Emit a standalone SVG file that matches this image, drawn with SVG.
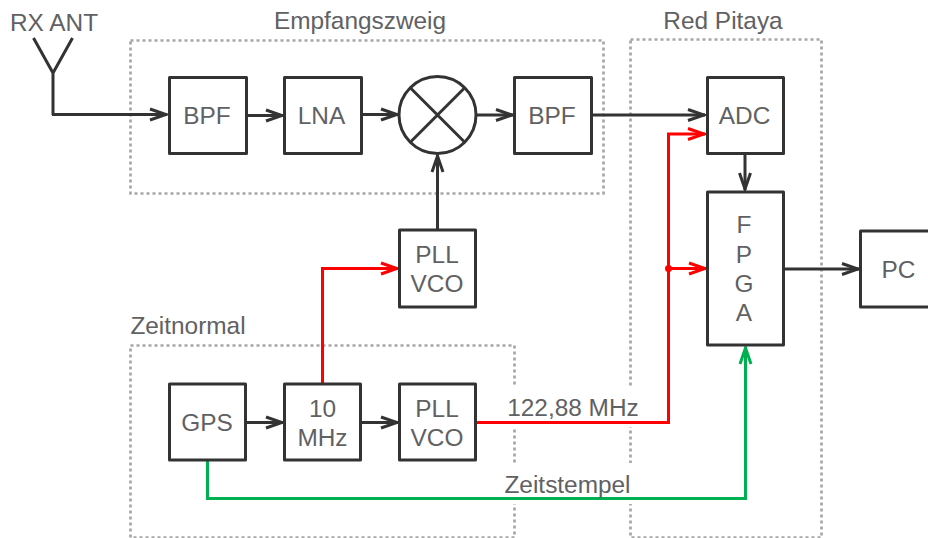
<svg xmlns="http://www.w3.org/2000/svg" width="928" height="538" viewBox="0 0 928 538">
<style>
text{font-family:"Liberation Sans",Arial,sans-serif;font-size:24.4px;fill:#5f6163;text-anchor:middle}
.b{fill:#fff;stroke:#333;stroke-width:3;stroke-linejoin:round}
.g{fill:none;stroke:#a6a6a6;stroke-width:2.700;stroke-dasharray:3 3}
.c{fill:none;stroke:#333;stroke-width:3}
.r{fill:none;stroke:#f00;stroke-width:3}
.n{fill:none;stroke:#00b050;stroke-width:3}
.mk{marker-end:url(#ak)}.mr{marker-end:url(#ar)}.mn{marker-end:url(#an)}
</style>
<defs>
<marker id="ak" markerUnits="userSpaceOnUse" markerWidth="20" markerHeight="16" refX="18" refY="8" orient="auto"><path d="M1 2.500L17 8L1 13.500" fill="none" stroke="#333" stroke-width="3"/></marker>
<marker id="ar" markerUnits="userSpaceOnUse" markerWidth="20" markerHeight="16" refX="18" refY="8" orient="auto"><path d="M1 2.500L17 8L1 13.500" fill="none" stroke="#f00" stroke-width="3"/></marker>
<marker id="an" markerUnits="userSpaceOnUse" markerWidth="20" markerHeight="16" refX="18" refY="8" orient="auto"><path d="M1 2.500L17 8L1 13.500" fill="none" stroke="#00b050" stroke-width="3"/></marker>
</defs>
<g id="groups">
<rect class="g" x="130.500" y="40.500" width="473" height="153"/>
<rect class="g" x="630.500" y="39.500" width="191" height="498"/>
<rect class="g" x="130.500" y="345.500" width="384" height="192"/>
<rect x="505" y="387" width="135" height="40" fill="#fff"/>
<rect x="505" y="463" width="135" height="41" fill="#fff"/>
<text x="360" y="29">Empfangszweig</text>
<text x="723" y="29">Red Pitaya</text>
<text x="188" y="334">Zeitnormal</text>
</g>
<g id="connectors">
<path class="c" d="M53 73L33.500 38M53 73L72.500 38M53 73V115"/>
<path class="c mk" d="M52 114.500H167"/>
<path class="c mk" d="M246 115.500H283"/>
<path class="c mk" d="M361 114.500H398"/>
<path class="c mk" d="M476 115H513"/>
<path class="c mk" d="M591 115H705"/>
<path class="c mk" d="M437.500 230V155"/>
<path class="c mk" d="M745 153V190"/>
<path class="c mk" d="M784 269H859"/>
<path class="c mk" d="M246 422.500H283"/>
<path class="c mk" d="M361 422.500H398"/>
<path class="r mr" d="M322.500 384V268.500H398"/>
<path class="r" d="M476 422.500H668.500V134"/>
<path class="r mr" d="M667 134H705"/>
<path class="r mr" d="M668.500 268.500H706"/>
<circle cx="668.500" cy="268.500" r="3.500" fill="#f00"/>
<path class="n mn" d="M207.500 460V498.500H745.500V347"/>
</g>
<g id="ant"><text x="54" y="31">RX ANT</text></g>
<g id="bpf1"><rect class="b" x="169.500" y="77.500" width="77" height="76"/><text x="207" y="124">BPF</text></g>
<g id="lna"><rect class="b" x="284.500" y="77.500" width="77" height="76"/><text x="321.500" y="124">LNA</text></g>
<g id="mixer"><circle class="b" cx="437.500" cy="115" r="38.500"/><path class="c" d="M410.500 88L464.500 142M464.500 88L410.500 142"/></g>
<g id="bpf2"><rect class="b" x="514.500" y="77.500" width="77" height="76"/><text x="552" y="124">BPF</text></g>
<g id="adc"><rect class="b" x="707.500" y="77.500" width="76" height="76"/><text x="744.500" y="124">ADC</text></g>
<g id="fpga"><rect class="b" x="707.500" y="192" width="76" height="153"/><text x="744" y="233">F</text><text x="744" y="263">P</text><text x="744" y="292">G</text><text x="744" y="321">A</text></g>
<g id="pc"><rect class="b" x="860.500" y="231" width="77" height="76"/><text x="898.500" y="278">PC</text></g>
<g id="pll1"><rect class="b" x="399.500" y="230" width="76" height="77"/><text x="437" y="263">PLL</text><text x="437" y="292">VCO</text></g>
<g id="gps"><rect class="b" x="169.500" y="384" width="76" height="76"/><text x="207" y="431">GPS</text></g>
<g id="mhz"><rect class="b" x="284.500" y="384" width="76" height="76"/><text x="322.500" y="417">10</text><text x="322.500" y="446">MHz</text></g>
<g id="pll2"><rect class="b" x="399.500" y="384" width="76" height="76"/><text x="437" y="417">PLL</text><text x="437" y="446">VCO</text></g>
<g id="labels"><text x="573" y="416">122,88 MHz</text><text x="567.500" y="493">Zeitstempel</text></g>
</svg>
